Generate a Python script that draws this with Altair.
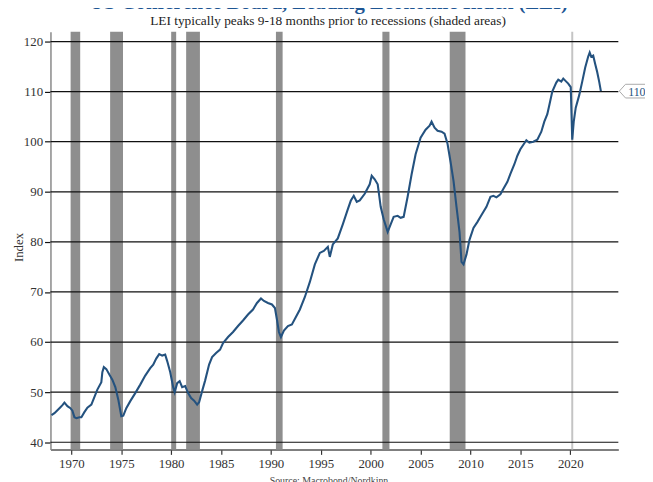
import altair as alt
import pandas as pd

# ---- data ----
years = [1968.0, 1968.3, 1968.6, 1968.9, 1969.1, 1969.3, 1969.6, 1969.9, 1970.1, 1970.3, 1970.5, 1970.8,
         1971.0, 1971.3, 1971.6, 1972.0, 1972.3, 1972.6, 1973.0, 1973.1, 1973.25, 1973.5, 1973.8, 1974.1,
         1974.4, 1974.7, 1975.0, 1975.2, 1975.5, 1975.9, 1976.4, 1976.9, 1977.4, 1977.9, 1978.2, 1978.5,
         1978.8, 1979.1, 1979.4, 1979.6, 1979.9, 1980.2, 1980.35, 1980.6, 1980.85, 1981.1, 1981.4, 1981.7,
         1982.0, 1982.3, 1982.6, 1982.8, 1983.1, 1983.4, 1983.8, 1984.1, 1984.5, 1984.9, 1985.2, 1985.7,
         1986.2, 1986.7, 1987.2, 1987.7, 1988.2, 1988.6, 1989.0, 1989.3, 1989.7, 1990.1, 1990.4, 1990.6,
         1990.8, 1991.0, 1991.3, 1991.7, 1992.1, 1992.5, 1992.9, 1993.4, 1993.9, 1994.4, 1994.9, 1995.3,
         1995.7, 1995.9, 1996.2, 1996.7, 1997.2, 1997.7, 1998.0, 1998.3, 1998.6, 1998.9, 1999.4, 1999.9,
         2000.1, 2000.4, 2000.7, 2001.0, 2001.3, 2001.7, 2002.0, 2002.3, 2002.7, 2003.0, 2003.3, 2003.7,
         2004.1, 2004.5, 2005.0, 2005.5, 2005.9, 2006.1, 2006.4, 2006.7, 2007.1, 2007.4, 2007.7, 2008.0,
         2008.3, 2008.6, 2008.9, 2009.1, 2009.3, 2009.6, 2009.9, 2010.3, 2010.7, 2011.0, 2011.3, 2011.6,
         2012.0, 2012.3, 2012.6, 2013.0, 2013.3, 2013.7, 2014.0, 2014.4, 2014.7, 2015.0, 2015.3, 2015.6,
         2015.9, 2016.3, 2016.7, 2017.1, 2017.4, 2017.7, 2017.9, 2018.2, 2018.6, 2018.8, 2019.1, 2019.3,
         2019.6, 2019.8, 2020.05, 2020.2, 2020.35, 2020.55, 2020.9, 2021.2, 2021.5, 2021.8, 2021.95, 2022.1,
         2022.3, 2022.5, 2022.7, 2022.9, 2023.07]
lei = [45.4, 45.8, 46.4, 47.0, 47.4, 47.9, 47.2, 46.8, 46.3, 45.0, 44.8, 45.0,
       45.0, 46.0, 46.9, 47.5, 49.0, 50.5, 52.0, 54.0, 55.0, 54.6, 53.5, 52.5,
       51.0, 48.5, 45.2, 45.3, 46.8, 48.2, 49.8, 51.5, 53.3, 54.8, 55.5, 56.7,
       57.6, 57.3, 57.5, 56.2, 54.0, 51.0, 50.0, 51.8, 52.2, 51.0, 51.2, 49.8,
       48.8, 48.3, 47.5, 48.0, 50.2, 52.3, 55.5, 57.0, 57.8, 58.5, 59.8, 61.0,
       62.0, 63.2, 64.3, 65.5, 66.5, 67.8, 68.7, 68.2, 67.8, 67.5, 66.8, 64.5,
       62.0, 61.0, 62.3, 63.2, 63.5, 65.0, 66.5, 69.0, 72.0, 75.5, 77.8, 78.2,
       79.0, 77.0, 79.5, 80.7, 83.5, 86.5, 88.2, 89.2, 88.0, 88.3, 89.6, 91.5,
       93.2, 92.5, 91.5, 87.0, 84.5, 82.0, 83.5, 85.0, 85.2, 84.8, 85.0, 89.0,
       93.5, 97.5, 100.8, 102.4, 103.2, 104.0, 102.8, 102.2, 102.0, 101.6, 99.6, 96.0,
       92.2, 87.0, 82.0, 76.0, 75.5, 77.5, 80.4, 82.8, 84.0, 85.0, 86.0, 87.0,
       89.0, 89.2, 88.9, 89.5, 90.6, 92.0, 93.6, 95.5, 97.2, 98.5, 99.4, 100.3,
       99.8, 100.0, 100.4, 102.0, 104.0, 105.5, 107.3, 110.0, 111.8, 112.4, 112.0, 112.6,
       112.0, 111.6, 110.9, 100.4, 104.0, 106.8, 109.3, 112.0, 114.8, 117.0, 117.8, 117.0,
       117.2, 115.5, 113.9, 112.0, 110.1]

rec_start = [1969.92, 1973.88, 1980.0, 1981.5, 1990.5, 2001.17, 2007.92]
rec_end = [1970.88, 1975.17, 1980.5, 1982.88, 1991.17, 2001.88, 2009.5]
covid_rec = [2020.2]
grid_values = [40, 50, 60, 70, 80, 90, 100, 110, 120]
x_ticks = [1970, 1975, 1980, 1985, 1990, 1995, 2000, 2005, 2010, 2015, 2020]

title_text = "US Conference Board, Leading Economic Index (LEI)"
subtitle_text = "LEI typically peaks 9-18 months prior to recessions (shaded areas)"
source_text = "Source: Macrobond/Nordkinn"

# ---- chart ----
W, H = 575, 423
FONT = "Liberation Serif"
BLUE = "#24527f"

line_df = pd.DataFrame({"year": years, "lei": lei})
rec_df = pd.DataFrame({"start": rec_start, "end": rec_end})
covid_df = pd.DataFrame({"year": covid_rec})
grid_df = pd.DataFrame({"v": grid_values})
last_df = pd.DataFrame({"lei": [lei[-1]], "label": [f"{lei[-1]:.0f}"]})

xscale = alt.Scale(domain=[1967.9, 2024.82], nice=False, zero=False)
yscale = alt.Scale(domain=[38.56, 121.97], nice=False, zero=False)

xaxis = alt.Axis(values=x_ticks, format="d", title=None, grid=False,
                 domainColor="#555555", domainWidth=1.5, tickColor="#333333",
                 tickSize=5, tickWidth=1.2, labelFont=FONT, labelFontSize=13,
                 labelColor="#333333", labelPadding=3)
yaxis = alt.Axis(values=grid_values, title="Index", grid=False,
                 domainColor="#888888", domainWidth=1.5, tickColor="#111111",
                 tickSize=6, tickWidth=1.2, labelFont=FONT, labelFontSize=13,
                 labelColor="#333333", labelPadding=2,
                 titleFont=FONT, titleFontSize=13, titleFontWeight="normal",
                 titleColor="#333333", titleX=-25, titleY=218)

rects = alt.Chart(rec_df).mark_rect(color="#8e8e8e").encode(
    x=alt.X("start:Q", scale=xscale, axis=xaxis),
    x2="end:Q",
    y=alt.value(0),
    y2=alt.value(H),
)

covid = alt.Chart(covid_df).mark_rule(color="#c4c4c4", strokeWidth=2).encode(
    x=alt.X("year:Q", scale=xscale, axis=xaxis),
    y=alt.value(0),
    y2=alt.value(H),
)

grid = alt.Chart(grid_df).mark_rule(color="#111111", strokeWidth=1.2).encode(
    y=alt.Y("v:Q", scale=yscale, axis=yaxis),
    x=alt.value(0),
    x2=alt.value(W),
)

line = alt.Chart(line_df).mark_line(color=BLUE, strokeWidth=2.1).encode(
    x=alt.X("year:Q", scale=xscale, axis=xaxis),
    y=alt.Y("lei:Q", scale=yscale, axis=yaxis),
)

callout_shape = "M -1 0 L -0.62 -0.42 L 1 -0.42 L 1 0.42 L -0.62 0.42 Z"
callout = alt.Chart(last_df).mark_point(
    shape=callout_shape, size=1089, filled=True, fill="white",
    stroke="#aaaaaa", strokeWidth=1, opacity=1
).encode(
    x=alt.value(W + 17.5),
    y=alt.Y("lei:Q", scale=yscale, axis=yaxis),
)
callout_text = alt.Chart(last_df).mark_text(
    font=FONT, fontSize=12, color=BLUE, align="left", baseline="middle", dy=0.5
).encode(
    x=alt.value(W + 10),
    y=alt.Y("lei:Q", scale=yscale, axis=yaxis),
    text="label:N",
)

title = alt.Chart(pd.DataFrame({"t": [title_text]})).mark_text(
    font=FONT, fontSize=21, fontWeight="bold", color="#1d5593",
    align="center", baseline="alphabetic"
).encode(x=alt.value(281.5), y=alt.value(-23), text="t:N")

subtitle = alt.Chart(pd.DataFrame({"t": [subtitle_text]})).mark_text(
    font=FONT, fontSize=13.5, color="#222222", align="center", baseline="alphabetic"
).encode(x=alt.value(281), y=alt.value(-7), text="t:N")

source = alt.Chart(pd.DataFrame({"t": [source_text]})).mark_text(
    font=FONT, fontSize=10, color="#444444", align="center", baseline="top"
).encode(x=alt.value(282), y=alt.value(450), text="t:N")

chart = alt.layer(
    rects, covid, grid, line, callout, callout_text, title, subtitle, source
).properties(
    width=W, height=H,
    autosize=alt.AutoSizeParams(type="none"),
    padding={"left": 43, "top": 21, "right": 27, "bottom": 30},
).configure_view(stroke=None)

chart.save("out.html", embed_options={"renderer": "svg", "actions": False})
